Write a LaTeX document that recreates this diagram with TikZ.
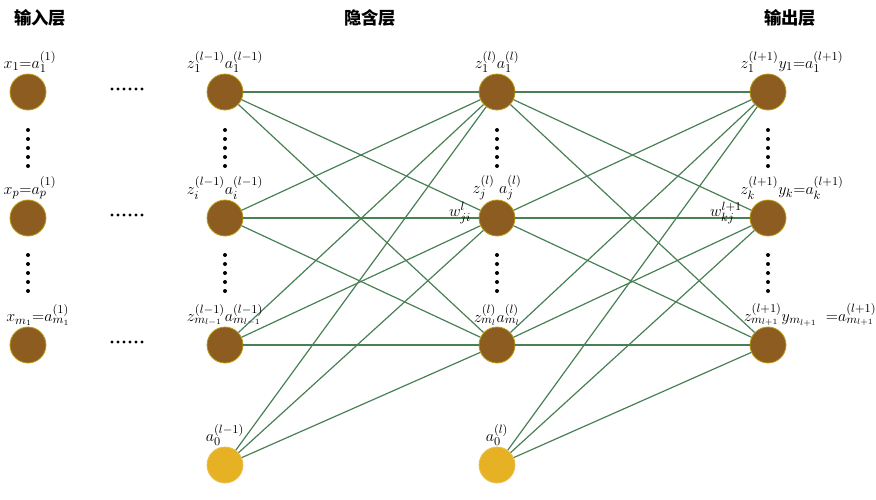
\documentclass[tikz,border=0pt]{standalone}
\usepackage{fontspec}
\newfontfamily\cjk{Noto Sans CJK SC}
\begin{document}
\begin{tikzpicture}[x=0.75pt,y=-0.75pt,
  neu/.style={circle,fill=brownN,draw=brownN!60!yellow,line width=0.6pt,minimum size=27pt,inner sep=0pt},
  bias/.style={neu,fill=yelN,draw=yelN!80!white},
  con/.style={draw=greenE,line width=0.9pt},
  lab/.style={font=\fontsize{12.5}{13}\selectfont,inner sep=1pt},
  ttl/.style={font=\cjk\bfseries\fontsize{13}{13}\selectfont}]
\definecolor{brownN}{RGB}{140,92,32}
\definecolor{yelN}{RGB}{230,178,35}
\definecolor{greenE}{RGB}{72,128,84}
\useasboundingbox (0,0) rectangle (876,500);
\node[ttl] at (40,18) {输入层};
\node[ttl] at (370,18) {隐含层};
\node[ttl] at (790,18) {输出层};
% nodes
\foreach \n/\y in {1/92,2/218,3/345}{
  \node[neu] (a\n) at (28,\y) {};
  \node[neu] (b\n) at (225,\y) {};
  \node[neu] (c\n) at (497,\y) {};
  \node[neu] (d\n) at (768,\y) {};
  \foreach \d in {-15,-9,-3,3,9,15}{\fill (127+\d,\y-3) circle (1.6);}
}
\node[bias] (b0) at (225,465) {};
\node[bias] (c0) at (497,465) {};
% connectors
\foreach \s in {1,2,3,0}{\foreach \t in {1,2,3}{
  \draw[con] (b\s) -- (c\t);
  \draw[con] (c\s) -- (d\t);}}
% vertical dots
\foreach \x in {28,225,497,768}{
  \foreach \yy in {148,273}{
   \foreach \d in {-18,-9,0,9,18}{\fill (\x,\yy+\d) circle (2);}
  }}
% labels
\node[lab] (la1) at (30,62) {$x_1{=}a_1^{(1)}$};
\node[lab] (la2) at (30,188) {$x_p{=}a_p^{(1)}$};
\node[lab] (la3) at (38,315) {$x_{m_1}{=}a_{m_1}^{(1)}$};
\node[lab] (lb1) at (225,62) {$z_1^{(l-1)}a_1^{(l-1)}$};
\node[lab] (lb2) at (225,188) {$z_i^{(l-1)}a_i^{(l-1)}$};
\node[lab] (lb3) at (225,315) {$z_{m_{l-1}}^{(l-1)}a_{m_{l-1}}^{(l-1)}$};
\node[lab] (lb0) at (225,435) {$a_0^{(l-1)}$};
\node[lab] (lc1) at (497,62) {$z_1^{(l)}a_1^{(l)}$};
\node[lab] (lc2) at (497,188) {$z_j^{(l)}\;a_j^{(l)}$};
\node[lab] (lc3) at (497,315) {$z_{m_l}^{(l)}a_{m_l}^{(l)}$};
\node[lab] (lc0) at (497,435) {$a_0^{(l)}$};
\node[lab] (ld1) at (792,62) {$z_1^{(l+1)}y_1{=}a_1^{(l+1)}$};
\node[lab] (ld2) at (792,188) {$z_k^{(l+1)}y_k{=}a_k^{(l+1)}$};
\node[lab] (ld3) at (810,315) {$z_{m_{l+1}}^{(l+1)}y_{m_{l+1}}\;\;{=}a_{m_{l+1}}^{(l+1)}$};
\node[lab] (w1) at (460,213) {$w_{ji}^{l}$};
\node[lab] (w2) at (726,213) {$w_{kj}^{l+1}$};
\end{tikzpicture}
\end{document}
